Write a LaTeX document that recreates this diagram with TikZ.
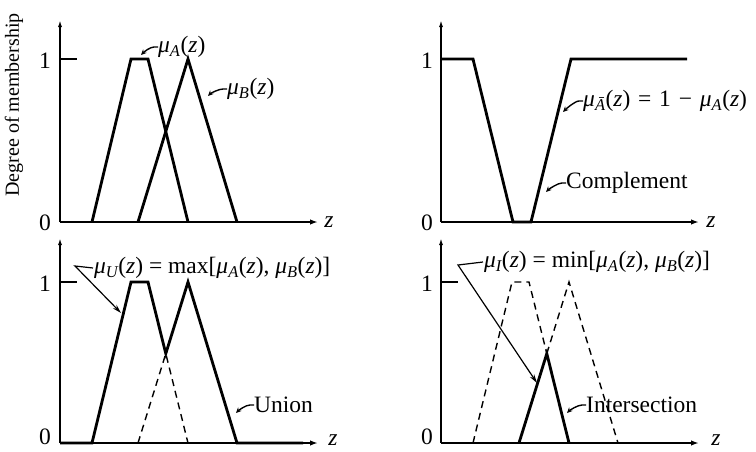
\documentclass[tikz,border=0pt]{standalone}
\usepackage{fontspec}
\setmainfont{Liberation Serif}
\usetikzlibrary{arrows.meta}
\newcommand\lblsize{\fontsize{23.5}{27}\selectfont}
\newcommand\mymu[1]{{\itshape μ}\textsubscript{\itshape #1}}
\newcommand\zz{\textit{z}}
\begin{document}
\begin{tikzpicture}[x=1pt,y=-1pt,
  axisline/.style={line width=2.2pt,-{Latex[length=8pt,width=5.5pt]}},
  yaxisline/.style={line width=1.6pt,-{Latex[length=7pt,width=4pt]}},
  tickline/.style={line width=1.6pt},
  curve/.style={line width=2.8pt,line join=miter},
  dashcurve/.style={line width=1.4pt,dash pattern=on 7pt off 5pt},
  hook/.style={line width=1.4pt,-{Stealth[length=5.5pt,width=5pt]}},
  lead/.style={line width=1.2pt,-{Stealth[length=9pt,width=5pt]}},
  lbl/.style={font=\lblsize,inner sep=0pt,anchor=west},
  num/.style={font=\lblsize,inner sep=0pt}]
\useasboundingbox (0,0) rectangle (756,451);

% y label
\node[rotate=90,font=\fontsize{20}{24}\selectfont,inner sep=0pt] (deg) at (14,105) {Degree of membership};

% ---------- axes ----------
\coordinate (o1) at (60,222);
\coordinate (o2) at (441,222);
\coordinate (o3) at (60,443);
\coordinate (o4) at (441,443);
\draw[yaxisline] (o1) -- (60,20);
\draw[axisline] (o1) -- (318,222);
\draw[yaxisline] (o2) -- (441,20);
\draw[axisline] (o2) -- (699,222);
\draw[yaxisline] (o3) -- (60,238);
\draw[axisline] (o3) -- (318,443);
\draw[yaxisline] (o4) -- (441,238);
\draw[axisline] (o4) -- (699,443);

\draw[tickline] (60,59) -- (77,59);
\draw[tickline] (60,282) -- (77,282);
\draw[tickline] (441,282) -- (458,282);

\node[num] (one1) at (45,61) {1};
\node[num] (zero1) at (45,223) {0};
\node[num] (one2) at (427,61) {1};
\node[num] (zero2) at (427,223) {0};
\node[num] (one3) at (45,284) {1};
\node[num] (zero3) at (45,437) {0};
\node[num] (one4) at (427,284) {1};
\node[num] (zero4) at (427,437) {0};

\node[num] (z1) at (329,222) {\zz};
\node[num] (z2) at (711,222) {\zz};
\node[num] (z3) at (333,440) {\zz};
\node[num] (z4) at (716,440) {\zz};

% ---------- top left ----------
\draw[curve] (92,222) -- (131,59) -- (148,59) -- (188,222);
\draw[curve] (138,222) -- (188,59) -- (237,222);
\node[lbl] (muA) at (158,47) {\mymu{A}(\zz)};
\coordinate (muAtip) at (141,55);
\draw[hook] (muA.west) -- ++(-4,0) .. controls +(-4,0) and +(3,-3) .. (muAtip);
\node[lbl] (muB) at (227,89) {\mymu{B}(\zz)};
\coordinate (muBtip) at (208,96);
\draw[hook] (muB.west) -- ++(-4,0) .. controls +(-4,0) and +(3,-3) .. (muBtip);

% ---------- top right ----------
\draw[curve] (441,59) -- (473,59) -- (513,222) -- (531,222) -- (571,59) -- (687,59);
\node[lbl] (muC) at (583,101) {\mymu{\=A}(\zz)\,\,=\,\,1\,\,−\,\,\mymu{A}(\zz)};
\coordinate (muCtip) at (563,112);
\draw[hook] (muC.west) -- ++(-4,0) .. controls +(-4,0) and +(3,-3) .. (muCtip);
\node[lbl] (comp) at (566,183) {Complement};
\coordinate (comptip) at (546,192);
\draw[hook] (comp.west) -- ++(-4,0) .. controls +(-4,0) and +(3,-3) .. (comptip);

% ---------- bottom left ----------
\draw[curve] (60,443) -- (92,443) -- (131,282) -- (148,282) -- (165.8,353.6) -- (188,282) -- (237,443) -- (303,443);
\draw[dashcurve] (138,443) -- (165.8,353.6) -- (188,443);
\node[lbl] (muU) at (94,268) {\mymu{U}(\zz) = max[\mymu{A}(\zz), \mymu{B}(\zz)]};
\coordinate (muUc) at (75,266);
\coordinate (muUtip) at (121,313);
\draw[lead] ([xshift=-1pt]muU.west) -- (muUc) -- (muUtip);
\node[lbl] (union) at (254,405) {Union};
\coordinate (uniontip) at (236,413);
\draw[hook] (union.west) -- ++(-4,0) .. controls +(-4,0) and +(3,-3) .. (uniontip);

% ---------- bottom right ----------
\draw[dashcurve] (473,443) -- (512,282) -- (529,282) -- (546.8,353.6);
\draw[dashcurve] (546.8,353.6) -- (569,282) -- (618,443);
\draw[curve] (519,443) -- (546.8,353.6) -- (569,443);
\node[lbl] (muI) at (484,262) {\mymu{I}(\zz) = min[\mymu{A}(\zz), \mymu{B}(\zz)]};
\coordinate (muIc) at (458,265);
\coordinate (muItip) at (537,383);
\draw[lead] ([xshift=-1pt]muI.west) -- (muIc) -- (muItip);
\node[lbl] (inter) at (586,405) {Intersection};
\coordinate (intertip) at (567,413);
\draw[hook] (inter.west) -- ++(-4,0) .. controls +(-4,0) and +(3,-3) .. (intertip);
\end{tikzpicture}
\end{document}
